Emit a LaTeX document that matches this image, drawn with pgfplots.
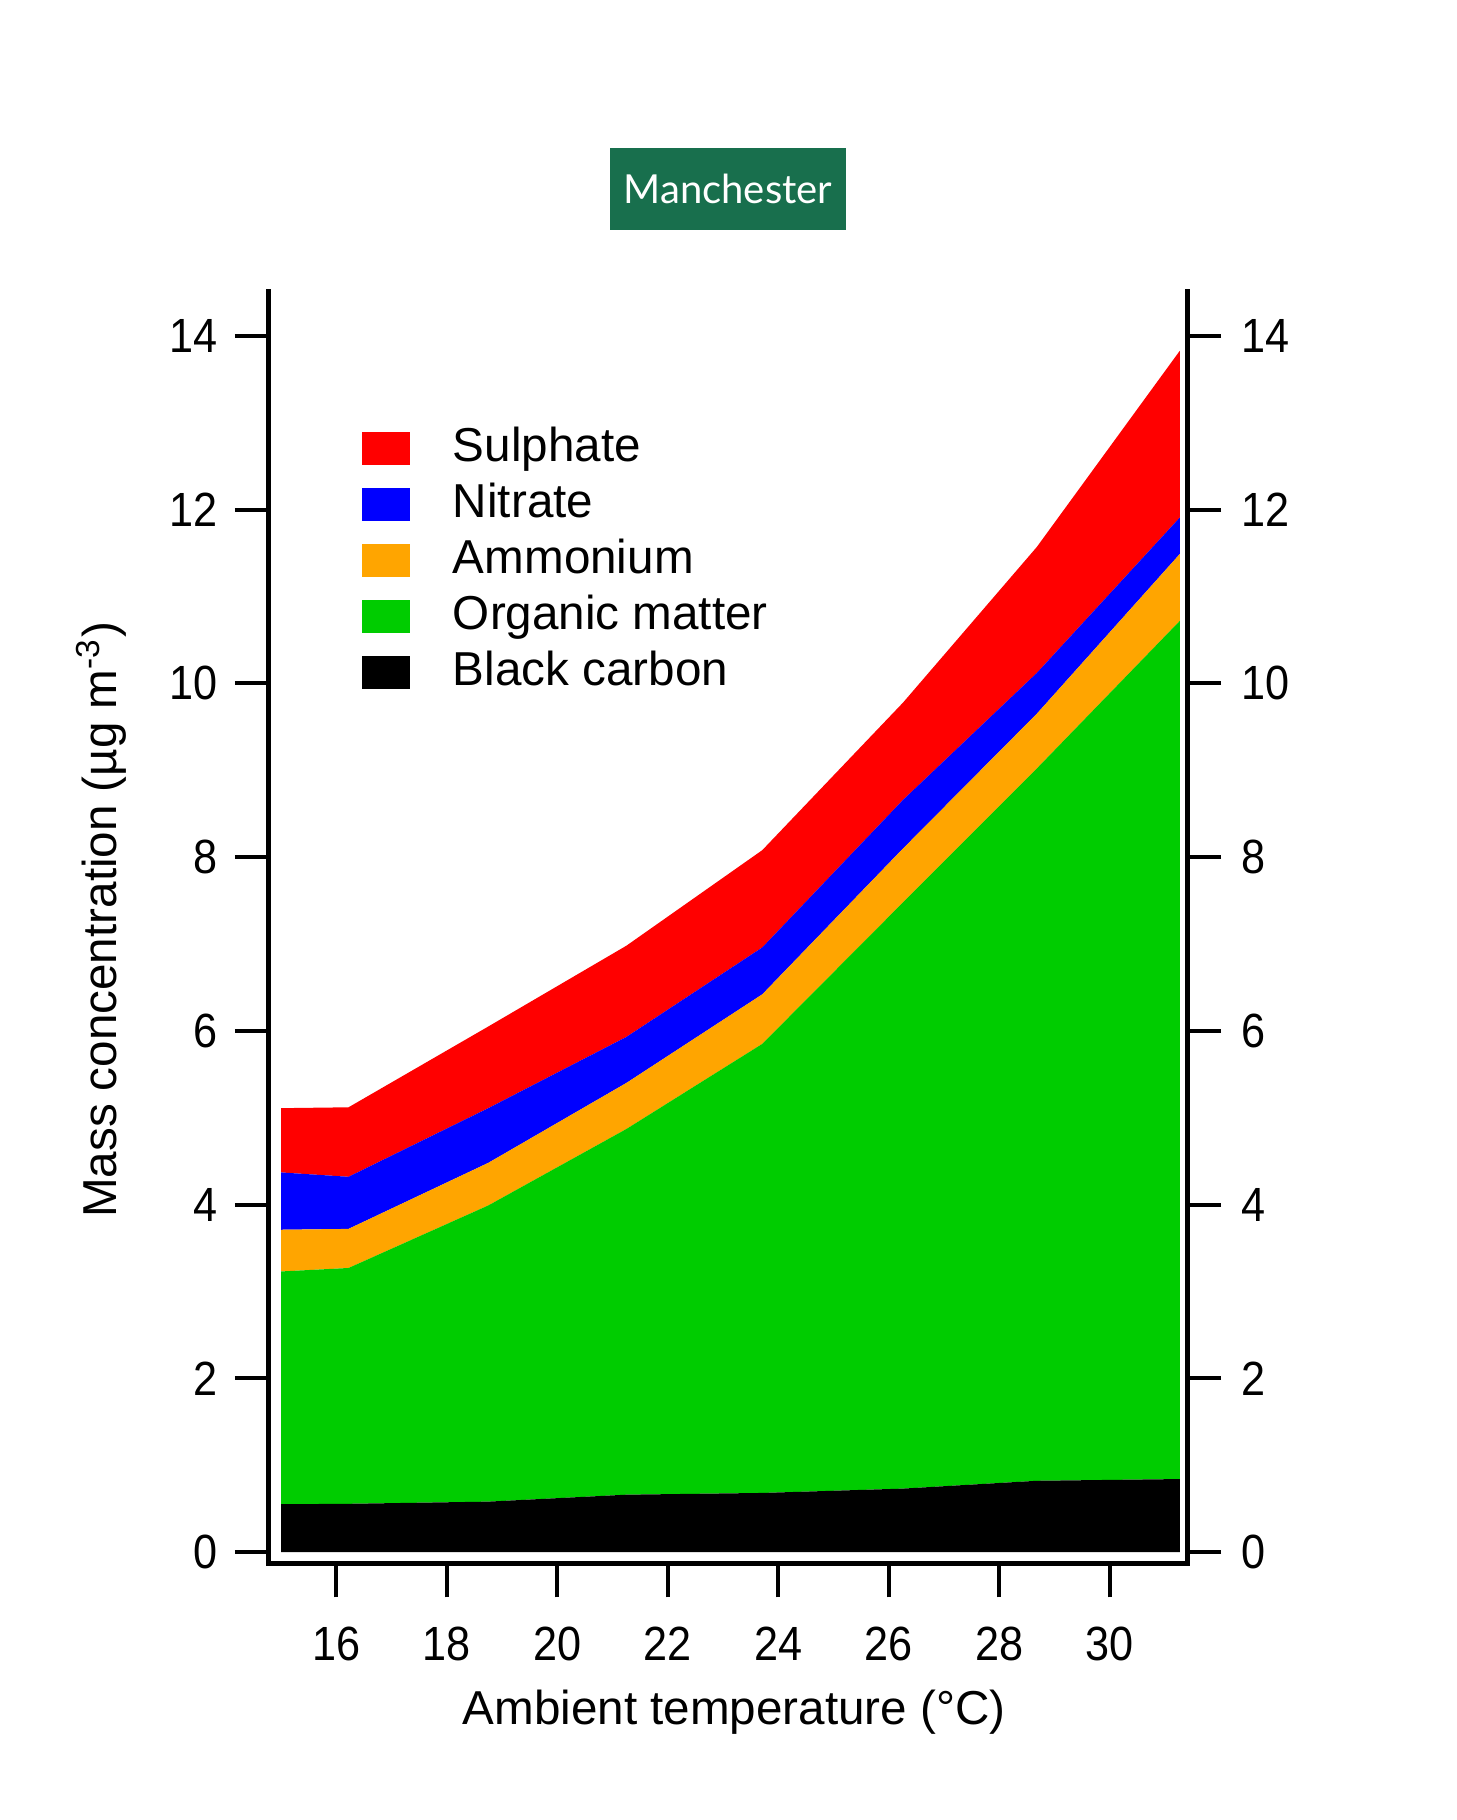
\documentclass[border=0pt]{standalone}
\usepackage{fontspec}
\setmainfont{Liberation Sans}
\newfontfamily\tickfont{Liberation Sans}[FakeStretch=0.9]
\newfontfamily\titlefont{Lato}
\usepackage{pgfplots}
\pgfplotsset{compat=1.18}
\usepackage{pgfplotstable}
\definecolor{titlegreen}{RGB}{24,111,77}
\definecolor{omgreen}{RGB}{0,204,0}
\definecolor{nhorange}{RGB}{255,165,0}

% component values (stacked)
\pgfplotstableread{
x      bc     om     nh4    no3    so4
15.00  0.550  2.680  0.480  0.660  0.740
16.22  0.555  2.715  0.450  0.600  0.800
18.75  0.580  3.410  0.490  0.630  0.940
21.25  0.660  4.210  0.530  0.530  1.050
23.71  0.680  5.170  0.570  0.540  1.120
26.26  0.730  6.750  0.620  0.560  1.120
28.68  0.820  8.200  0.630  0.470  1.450
31.27  0.840  9.880  0.770  0.420  1.920
}\datatable

\begin{document}
\begin{tikzpicture}
\path[use as bounding box] (-67.25pt,-64.175pt) rectangle (296.75pt,390.825pt);
\begin{axis}[
  scale only axis, width=229.5pt, height=317.9pt,
  xmin=14.78, xmax=31.40, ymin=-0.13, ymax=14.51,
  axis x line*=bottom, axis y line*=left,
  axis line style={-, line width=1.25pt, line cap=rect},
  every tick/.style={black, line width=1pt},
  tick align=outside, major tick length=8.5pt,
  xtick={16,18,...,30}, ytick={0,2,...,14},
  minor tick num=0,
  /pgf/number format/assume math mode=true,
  ticklabel style={font=\tickfont\fontsize{12}{14}\selectfont},
  xticklabel style={anchor=base, inner sep=0pt, yshift=-15.9pt},
  yticklabel style={anchor=east, inner sep=0pt, xshift=-4.1pt},
  xlabel={Ambient temperature (°C)},
  xlabel style={at={(axis description cs:0.5067,-0.1265)}, anchor=base, font=\fontsize{11.9}{14}\selectfont},
  ylabel={Mass concentration (µg m\textsuperscript{-3})},
  ylabel style={at={(axis description cs:-0.1656,0.506)}, anchor=base, rotate=0, font=\fontsize{11.9}{14}\selectfont},
  title={Manchester},
  every axis title shift=0pt,
  title style={at={(axis description cs:0.5,1.0808)}, anchor=center, fill=titlegreen, text=white,
     font=\titlefont\fontsize{10}{12}\selectfont, minimum width=59pt, minimum height=20.5pt, inner sep=0pt},
  stack plots=y,
  legend image code/.code={\fill[#1] (0pt,-1.8pt) rectangle (12pt,6.5pt);},
  reverse legend,
  legend cell align=left,
  legend style={at={(axis description cs:0.1013,0.8900)}, anchor=north west, draw=none, fill=none,
     inner sep=0pt, outer sep=0pt, row sep=1.44pt, font=\fontsize{11.9}{14}\selectfont,
     nodes={inner sep=0pt, text height=7pt, text depth=5.2pt},
     /tikz/every odd column/.append style={column sep=10.75pt}},
]
\addplot[fill=black, draw=none] table[x=x, y=bc] {\datatable} \closedcycle;
\addplot[fill=omgreen, draw=none] table[x=x, y=om] {\datatable} \closedcycle;
\addplot[fill=nhorange, draw=none] table[x=x, y=nh4] {\datatable} \closedcycle;
\addplot[fill=blue, draw=none] table[x=x, y=no3] {\datatable} \closedcycle;
\addplot[fill=red, draw=none] table[x=x, y=so4] {\datatable} \closedcycle;
\legend{Black carbon, Organic matter, Ammonium, Nitrate, Sulphate}
\end{axis}
\begin{axis}[
  scale only axis, width=229.5pt, height=317.9pt,
  xmin=14.78, xmax=31.40, ymin=-0.13, ymax=14.51,
  axis x line=none, axis y line*=right,
  axis line style={-, line width=1.25pt, line cap=rect},
  every tick/.style={black, line width=1pt},
  tick align=outside, major tick length=8.5pt,
  ytick={0,2,...,14}, minor tick num=0,
  /pgf/number format/assume math mode=true,
  ticklabel style={font=\tickfont\fontsize{12}{14}\selectfont},
  yticklabel style={anchor=west, inner sep=0pt, xshift=5pt},
]
\end{axis}
\end{tikzpicture}
\end{document}
